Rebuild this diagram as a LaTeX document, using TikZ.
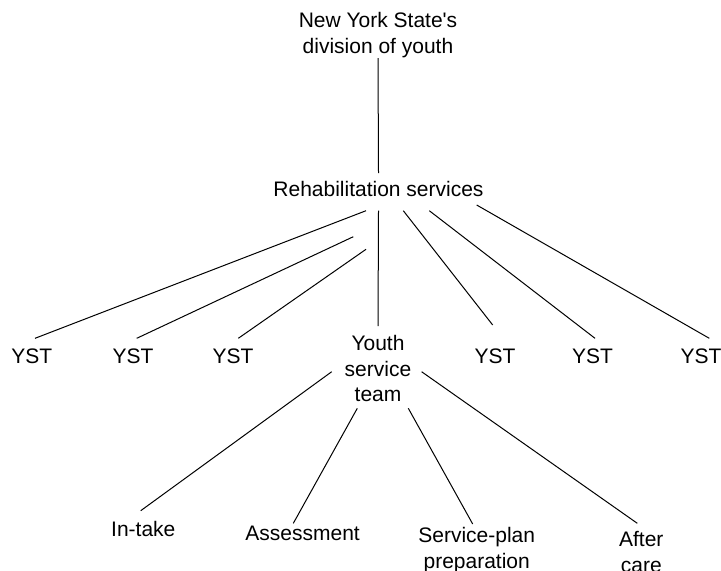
\documentclass[tikz,border=0pt]{standalone}
\usepackage{fontspec}
\setmainfont{Liberation Sans}
\usetikzlibrary{calc}

\begin{document}
\begin{tikzpicture}[x=0.5pt, y=-0.5pt,
        lbl/.style={inner sep=0pt, anchor=base, align=center, font=\fontsize{10.5}{12.8}\selectfont},
        edge/.style={line width=0.5pt}]
        \useasboundingbox (0,0) rectangle (721,570);

        \node[lbl] at (378, 53)    (nys)    {New York State\textquotesingle s\\division of youth};
        \node[lbl] at (378.5, 196.7) (rehab) {Rehabilitation services};

        \node[lbl] at (31.7, 363.3)  (y1) {YST};
        \node[lbl] at (133, 363.3)   (y2) {YST};
        \node[lbl] at (233, 363.3)   (y3) {YST};
        \node[lbl] at (378, 401.7)   (team) {Youth\\service\\team};
        \node[lbl] at (495, 363.3)   (y4) {YST};
        \node[lbl] at (592.5, 363.3) (y5) {YST};
        \node[lbl] at (701, 363.3)   (y6) {YST};

        \node[lbl] at (143.3, 536.7) (intake) {In-take};
        \node[lbl] at (302.6, 540.7) (assess) {Assessment};
        \node[lbl] at (476.7, 568)   (plan)   {Service-plan\\preparation};
        \node[lbl] at (641.3, 572.3) (after)  {After\\care};

        \draw [edge] ($(nys.base)+(0,5)$) -- ($(rehab.base)+(0,-23.7)$);

        \draw [edge] ($(rehab.base)+(-12.5,14)$) -- ($(y1.base)+(3.3,-25)$);
        \draw [edge] ($(rehab.base)+(-25.2,40)$) -- ($(y2.base)+(3.7,-25)$);
        \draw [edge] ($(rehab.base)+(-12.5,52.6)$) -- ($(y3.base)+(5.3,-25)$);
        \draw [edge] ($(rehab.base)+(0,14)$) -- ($(team.base)+(0,-75.7)$);
        \draw [edge] ($(rehab.base)+(24.8,14)$) -- ($(y4.base)+(-2.3,-38.3)$);
        \draw [edge] ($(rehab.base)+(50.8,14)$) -- ($(y5.base)+(2.5,-25)$);
        \draw [edge] ($(rehab.base)+(98.2,8.3)$) -- ($(y6.base)+(8.3,-25)$);

        \draw [edge] ($(team.base)+(-46.3,-30)$) -- ($(intake.base)+(-2.6,-26)$);
        \draw [edge] ($(team.base)+(-20.7,6.6)$) -- ($(assess.base)+(-9.3,-17.4)$);
        \draw [edge] ($(team.base)+(30.3,6.6)$) -- ($(plan.base)+(-4,-44)$);
        \draw [edge] ($(team.base)+(43.6,-30)$) -- ($(after.base)+(-4,-49)$);
    \end{tikzpicture}
\end{document}
